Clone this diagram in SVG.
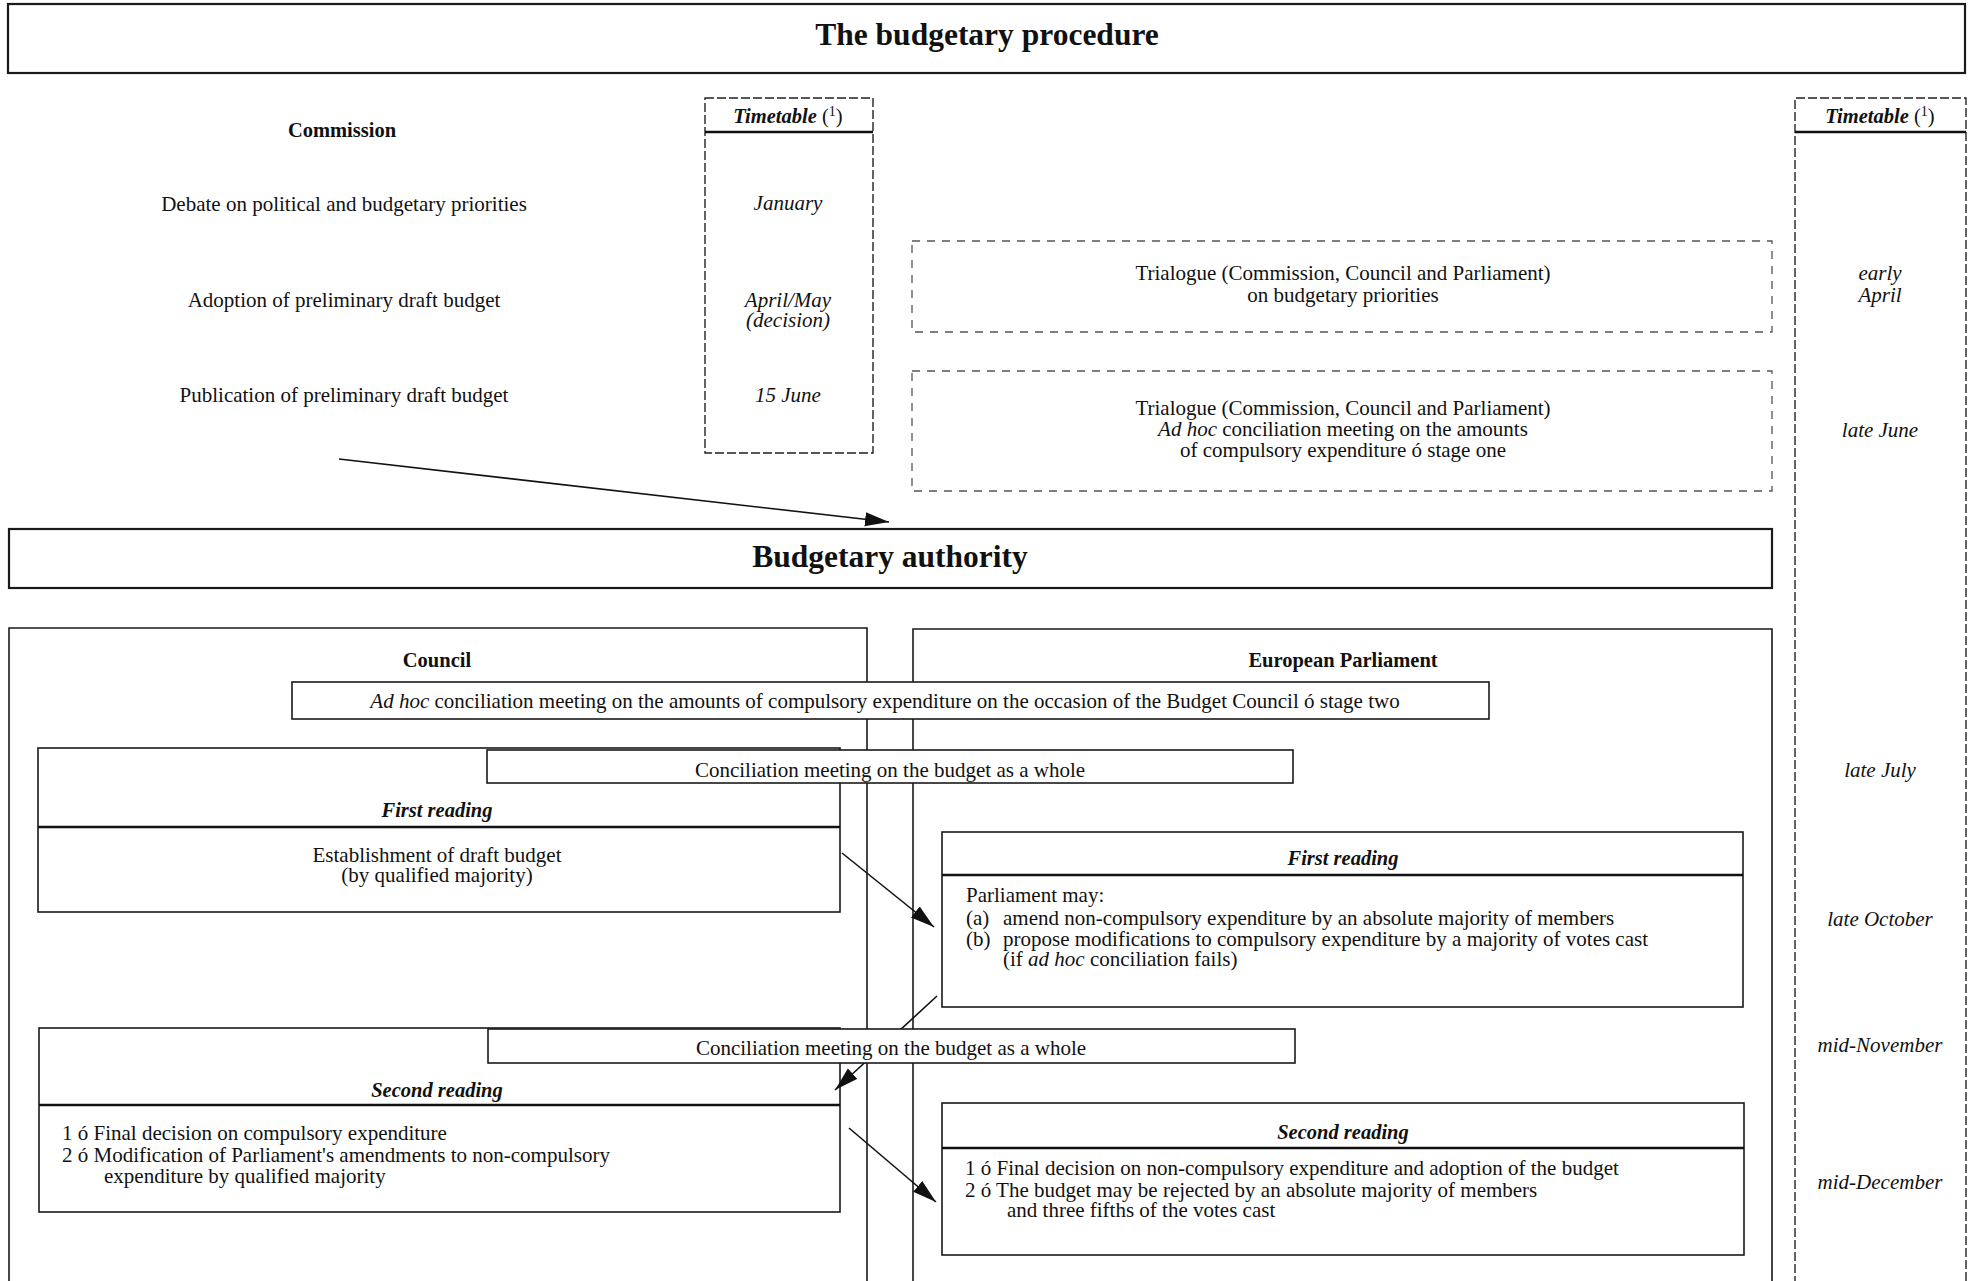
<svg xmlns="http://www.w3.org/2000/svg" width="1971" height="1281" viewBox="0 0 1971 1281">
<style>
text{font-family:"Liberation Serif","Times New Roman",serif;font-size:21px;fill:#111}
.c{text-anchor:middle}
.b{font-weight:bold;font-size:20.5px}
.i{font-style:italic}
.n{font-weight:normal;font-style:normal}
.t{font-size:31.5px;font-weight:bold}
.box{fill:#fff;stroke:#1a1a1a;stroke-width:1.6}
.thick{fill:#fff;stroke:#1a1a1a;stroke-width:2.2}
.open{fill:none;stroke:#1a1a1a;stroke-width:1.6}
.dash{fill:none;stroke:#222;stroke-width:1.4;stroke-dasharray:9 3}
.dot{fill:none;stroke:#555;stroke-width:1.3;stroke-dasharray:8 7}
.sep{stroke:#111;stroke-width:2.4}
.conn{stroke:#111;stroke-width:1.6;fill:none}
</style>
<defs>
<marker id="ah" markerUnits="userSpaceOnUse" markerWidth="26" markerHeight="16" refX="24" refY="7" orient="auto"><path d="M0,0 L24,7 L0,14 Z" fill="#111"/></marker>
</defs>
<rect width="1971" height="1281" fill="#fff"/>

<g id="title">
<rect class="thick" x="8" y="4" width="1957" height="69"/>
<text class="c t" x="987" y="45">The budgetary procedure</text>
</g>

<g id="commission">
<text class="c b" x="342" y="137">Commission</text>
<text class="c" x="344" y="211">Debate on political and budgetary priorities</text>
<text class="c" x="344" y="307">Adoption of preliminary draft budget</text>
<text class="c" x="344" y="402">Publication of preliminary draft budget</text>
</g>

<g id="timetable-left">
<rect class="dash" x="705" y="98" width="168" height="355"/>
<line class="sep" x1="705" y1="132" x2="873" y2="132"/>
<text class="c b i" x="788" y="123">Timetable <tspan class="n">(</tspan><tspan class="n" font-size="14" dy="-7">1</tspan><tspan class="n" dy="7">)</tspan></text>
<text class="c i" x="788" y="210">January</text>
<text class="c i" x="788" y="307">April/May</text>
<text class="c i" x="788" y="327">(decision)</text>
<text class="c i" x="788" y="402">15 June</text>
</g>

<g id="timetable-right">
<path class="dash" d="M1795,1285 V98 H1966 V1285"/>
<line class="sep" x1="1795" y1="132" x2="1966" y2="132"/>
<text class="c b i" x="1880" y="123">Timetable <tspan class="n">(</tspan><tspan class="n" font-size="14" dy="-7">1</tspan><tspan class="n" dy="7">)</tspan></text>
<text class="c i" x="1880" y="280">early</text>
<text class="c i" x="1880" y="302">April</text>
<text class="c i" x="1880" y="437">late June</text>
<text class="c i" x="1880" y="777">late July</text>
<text class="c i" x="1880" y="926">late October</text>
<text class="c i" x="1880" y="1052">mid-November</text>
<text class="c i" x="1880" y="1189">mid-December</text>
</g>

<g id="trialogue-1">
<rect class="dot" x="912" y="241" width="860" height="91"/>
<text class="c" x="1343" y="280">Trialogue (Commission, Council and Parliament)</text>
<text class="c" x="1343" y="302">on budgetary priorities</text>
</g>

<g id="trialogue-2">
<rect class="dot" x="912" y="371" width="860" height="120"/>
<text class="c" x="1343" y="415">Trialogue (Commission, Council and Parliament)</text>
<text class="c" x="1343" y="436"><tspan class="i">Ad hoc</tspan> conciliation meeting on the amounts</text>
<text class="c" x="1343" y="457">of compulsory expenditure ó stage one</text>
</g>

<g id="budgetary-authority">
<rect class="thick" x="9" y="529" width="1763" height="59"/>
<text class="c t" x="890" y="567">Budgetary authority</text>
</g>

<g id="council">
<path class="open" d="M9,1285 V628 H867 V1285"/>
<text class="c b" x="437" y="667">Council</text>
</g>

<g id="parliament">
<path class="open" d="M913,1285 V629 H1772 V1285"/>
<text class="c b" x="1343" y="667">European Parliament</text>
</g>

<g id="council-first-reading">
<rect class="box" x="38" y="748" width="802" height="164"/>
<line class="sep" x1="38" y1="827" x2="840" y2="827"/>
<text class="c b i" x="437" y="817">First reading</text>
<text class="c" x="437" y="862">Establishment of draft budget</text>
<text class="c" x="437" y="882">(by qualified majority)</text>
</g>

<g id="council-second-reading">
<rect class="box" x="39" y="1028" width="801" height="184"/>
<line class="sep" x1="39" y1="1105" x2="840" y2="1105"/>
<text class="c b i" x="437" y="1097">Second reading</text>
<text x="62" y="1140">1 ó Final decision on compulsory expenditure</text>
<text x="62" y="1162">2 ó Modification of Parliament's amendments to non-compulsory</text>
<text x="104" y="1183">expenditure by qualified majority</text>
</g>

<g id="parliament-first-reading">
<rect class="box" x="942" y="832" width="801" height="175"/>
<line class="sep" x1="942" y1="875" x2="1743" y2="875"/>
<text class="c b i" x="1343" y="865">First reading</text>
<text x="966" y="902">Parliament may:</text>
<text x="966" y="925">(a)</text>
<text x="1003" y="925">amend non-compulsory expenditure by an absolute majority of members</text>
<text x="966" y="946">(b)</text>
<text x="1003" y="946">propose modifications to compulsory expenditure by a majority of votes cast</text>
<text x="1003" y="966">(if <tspan class="i">ad hoc</tspan> conciliation fails)</text>
</g>

<g id="parliament-second-reading">
<rect class="box" x="942" y="1103" width="802" height="152"/>
<line class="sep" x1="942" y1="1148" x2="1744" y2="1148"/>
<text class="c b i" x="1343" y="1139">Second reading</text>
<text x="965" y="1175">1 ó Final decision on non-compulsory expenditure and adoption of the budget</text>
<text x="965" y="1197">2 ó The budget may be rejected by an absolute majority of members</text>
<text x="1007" y="1217">and three fifths of the votes cast</text>
</g>

<g id="connectors">
<line class="conn" x1="339" y1="459" x2="889" y2="522" marker-end="url(#ah)"/>
<line class="conn" x1="842" y1="853" x2="934" y2="927" marker-end="url(#ah)"/>
<line class="conn" x1="937" y1="996" x2="835" y2="1090" marker-end="url(#ah)"/>
<line class="conn" x1="849" y1="1128" x2="936" y2="1202" marker-end="url(#ah)"/>
</g>

<g id="adhoc-stage-two">
<rect class="box" x="292" y="682" width="1197" height="37"/>
<text class="c" x="885" y="708"><tspan class="i">Ad hoc</tspan> conciliation meeting on the amounts of compulsory expenditure on the occasion of the Budget Council ó stage two</text>
</g>

<g id="conciliation-1">
<rect class="box" x="487" y="750" width="806" height="33"/>
<text class="c" x="890" y="777">Conciliation meeting on the budget as a whole</text>
</g>

<g id="conciliation-2">
<rect class="box" x="488" y="1029" width="807" height="34"/>
<text class="c" x="891" y="1055">Conciliation meeting on the budget as a whole</text>
</g>
</svg>
